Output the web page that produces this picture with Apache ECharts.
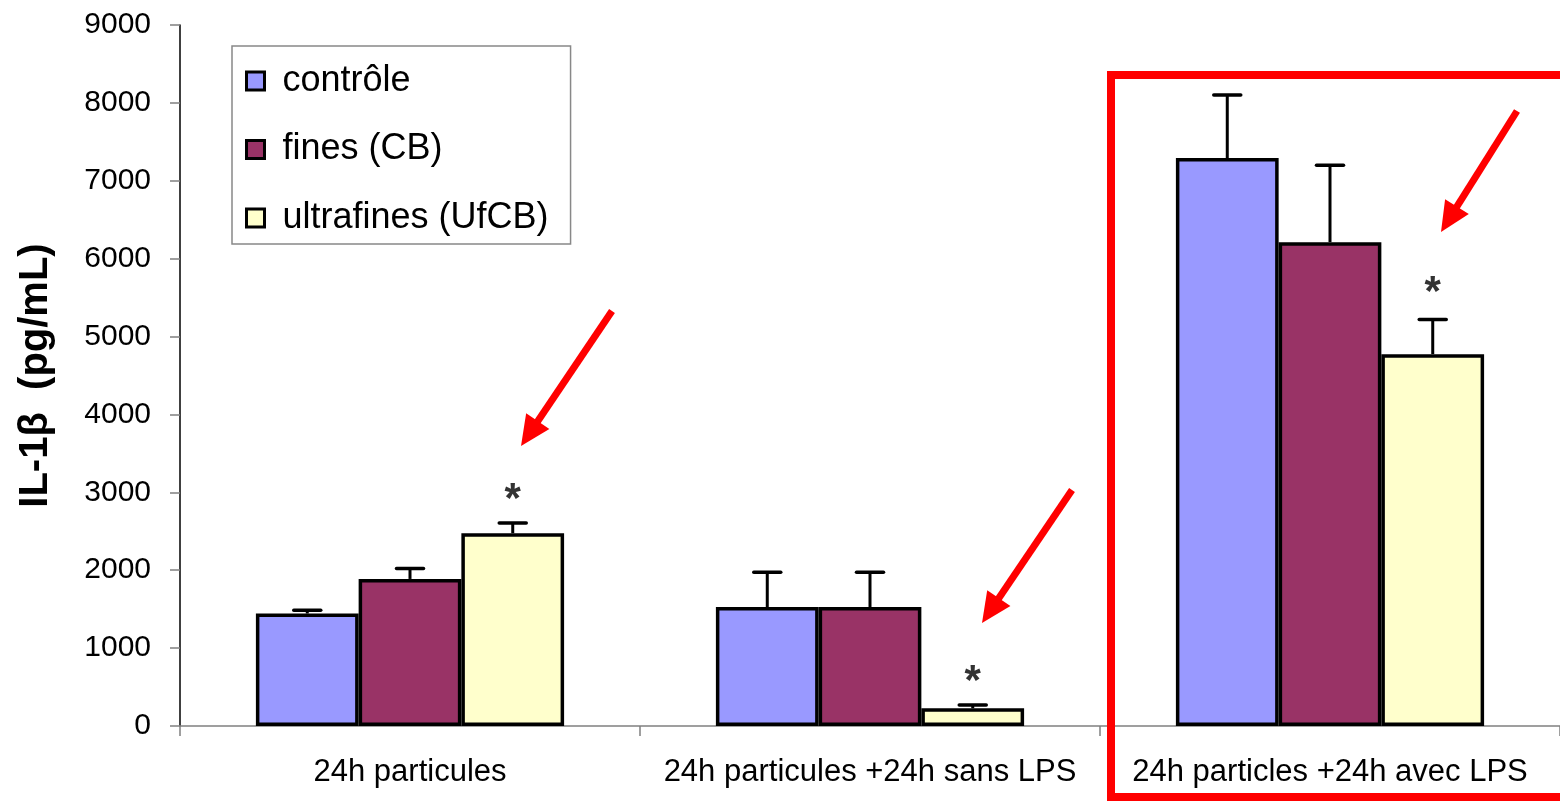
<!DOCTYPE html>
<html>
<head>
<meta charset="utf-8">
<script src="https://cdn.jsdelivr.net/npm/echarts@6/dist/echarts.min.js"></script>
<style>html,body{margin:0;padding:0;background:#fff;}#c{width:1560px;height:801px;}</style>
</head>
<body>
<div id="c"></div>
<script>
const categories = ['24h particules', '24h particules +24h sans LPS', '24h particles +24h avec LPS'];
const seriesNames = ['contrôle', 'fines (CB)', 'ultrafines (UfCB)'];
const controle = [1444, 1528, 7291];
const fines = [1888, 1528, 6212];
const ultrafines = [2475, 227, 4774];
const controleErr = [42, 446, 809];
const finesErr = [134, 446, 986];
const ultrafinesErr = [132, 43, 445];
const asteriskY = [3027, 690, 5686];
const yMin = 0, yMax = 9000, yInterval = 1000;

const colors = ['#9999FF', '#993366', '#FFFFCC'];
const values = [controle, fines, ultrafines];
const errs = [controleErr, finesErr, ultrafinesErr];
const gapFrac = 0.33;
const FONT = 'Liberation Sans, Arial, sans-serif';

const chart = echarts.init(document.getElementById('c'), null, {renderer: 'canvas'});

function barOffset(api, idx) {
  const band = api.size([1, 0])[0];
  const bw = band * (1 - gapFrac) / 3;
  return (idx - 1) * bw;
}

const barSeries = seriesNames.map((n, i) => ({
  name: n,
  type: 'bar',
  data: values[i],
  barGap: '0%',
  barCategoryGap: '33%',
  itemStyle: {color: colors[i], borderColor: '#000', borderWidth: 3.5},
  z: 2
}));

const errSeries = seriesNames.map((n, i) => ({
  type: 'custom',
  name: n + ' err',
  silent: true,
  z: 3,
  clip: false,
  data: values[i].map((v, k) => [k, v, errs[i][k]]),
  renderItem: function (params, api) {
    const k = api.value(0);
    const v = api.value(1);
    const e = api.value(2);
    const off = barOffset(api, i);
    const p0 = api.coord([k, v]);
    const p1 = api.coord([k, v + e]);
    const x = p0[0] + off;
    const cap = 13.5;
    return {
      type: 'group',
      children: [
        {type: 'line', shape: {x1: x, y1: p0[1], x2: x, y2: p1[1]}, style: {stroke: '#000', lineWidth: 3}},
        {type: 'line', shape: {x1: x - cap, y1: p1[1], x2: x + cap, y2: p1[1]}, style: {stroke: '#000', lineWidth: 3.5, lineCap: 'round'}}
      ]
    };
  }
}));

const starSeries = {
  type: 'custom',
  name: 'sig',
  silent: true,
  z: 4,
  data: asteriskY.map((v, k) => [k, v]),
  renderItem: function (params, api) {
    const k = api.value(0);
    const p = api.coord([k, api.value(1)]);
    const off = barOffset(api, 2);
    return {
      type: 'text',
      style: {
        text: '*', x: p[0] + off, y: p[1] + 10,
        fill: '#333', font: 'bold 42px ' + FONT,
        textAlign: 'center', textVerticalAlign: 'middle'
      }
    };
  }
};

function arrow(tail, tip) {
  const dx = tip[0] - tail[0], dy = tip[1] - tail[1];
  const len = Math.sqrt(dx * dx + dy * dy);
  const ux = dx / len, uy = dy / len;
  const hl = 30, hw = 14;
  const bx = tip[0] - ux * hl, by = tip[1] - uy * hl;
  const px = -uy, py = ux;
  return [
    {type: 'line', z: 100, shape: {x1: tail[0], y1: tail[1], x2: bx + ux * 4, y2: by + uy * 4}, style: {stroke: '#ff0000', lineWidth: 7}},
    {type: 'polygon', z: 100, shape: {points: [[tip[0], tip[1]], [bx + px * hw, by + py * hw], [bx - px * hw, by - py * hw]]}, style: {fill: '#ff0000'}}
  ];
}

const option = {
  backgroundColor: '#fff',
  animation: false,
  textStyle: {fontFamily: FONT},
  grid: {left: 180, right: 0, top: 25, bottom: 75, containLabel: false, outerBoundsMode: 'none'},
  legend: {
    orient: 'vertical',
    left: 232, top: 46,
    data: seriesNames,
    icon: 'rect',
    itemWidth: 18, itemHeight: 18,
    itemGap: 32.5,
    padding: [17, 22, 8, 13],
    borderColor: '#888', borderWidth: 1.5,
    backgroundColor: '#fff',
    itemStyle: {borderWidth: 3, borderColor: '#000'},
    textStyle: {fontSize: 36, color: '#000', fontFamily: FONT, padding: [0, 0, 0, 13]}
  },
  xAxis: {
    type: 'category',
    data: categories,
    axisLine: {lineStyle: {color: '#808080', width: 1.5}},
    axisTick: {show: true, length: 10, lineStyle: {color: '#808080', width: 1.5}},
    axisLabel: {fontSize: 31, color: '#000', margin: 31, fontFamily: FONT, interval: 0, hideOverlap: false},
    splitLine: {show: false}
  },
  yAxis: {
    type: 'value',
    min: yMin, max: yMax, interval: yInterval,
    name: 'IL-1β  (pg/mL)',
    nameLocation: 'middle',
    nameRotate: 90,
    nameGap: 124,
    nameTextStyle: {fontSize: 40, fontWeight: 'bold', color: '#000', fontFamily: FONT},
    axisLine: {show: true, lineStyle: {color: '#000', width: 1.5}},
    axisTick: {show: true, length: 10, lineStyle: {color: '#808080', width: 1.5}},
    axisLabel: {fontSize: 30, color: '#000', margin: 29, fontFamily: FONT, formatter: v => String(v)},
    splitLine: {show: false}
  },
  series: [...barSeries, ...errSeries, starSeries],
  graphic: [
    {type: 'rect', z: 100, shape: {x: 1111, y: 75, width: 470, height: 722}, style: {fill: 'none', stroke: '#ff0000', lineWidth: 8}},
    ...arrow([612, 311], [521, 446]),
    ...arrow([1072, 490], [982, 623]),
    ...arrow([1517, 111], [1441, 232])
  ]
};
chart.setOption(option);
</script>
</body>
</html>
